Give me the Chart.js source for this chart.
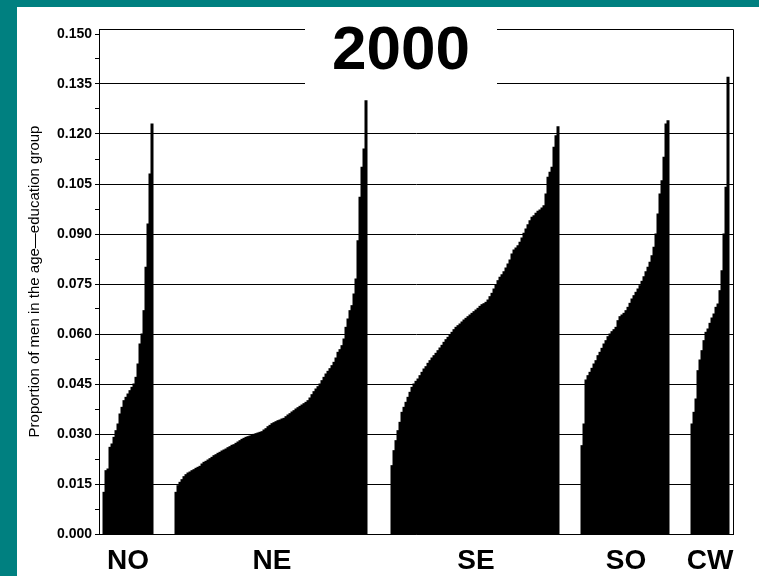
<!DOCTYPE html>
<html>
<head>
<meta charset="utf-8">
<title>2000</title>
<script src="https://cdn.jsdelivr.net/npm/chart.js@4.4.1/dist/chart.umd.min.js"></script>
<style>
  html, body { margin: 0; padding: 0; background: #008080; overflow: hidden; }
  #panel { position: absolute; left: 17px; top: 7px; width: 742px; height: 569px; background: #fff; }
  canvas { display: block; }
</style>
</head>
<body>
<div id="panel"><canvas id="myChart" width="742" height="569"></canvas></div>
<script>
const chartTitle = '2000';
const yTitle = 'Proportion of men in the age—education group';
const regions = ['NO', 'NE', 'SE', 'SO', 'CW'];

// sorted proportions, one bar per area, by region
const valuesNO = [0.0125, 0.0190, 0.0195, 0.0260, 0.0270, 0.0290, 0.0310, 0.0330, 0.0360, 0.0380,
  0.0400, 0.0410, 0.0420, 0.0430, 0.0440, 0.0450, 0.0470, 0.0510, 0.0570, 0.0600,
  0.0670, 0.0800, 0.0930, 0.1080, 0.1230];
const valuesNE = [0.0125, 0.0145, 0.0155, 0.0163, 0.0172, 0.0178, 0.0183, 0.0186, 0.0190, 0.0193,
  0.0197, 0.0200, 0.0203, 0.0210, 0.0215, 0.0218, 0.0222, 0.0226, 0.0230, 0.0235,
  0.0238, 0.0242, 0.0245, 0.0249, 0.0252, 0.0255, 0.0259, 0.0262, 0.0266, 0.0268,
  0.0272, 0.0276, 0.0280, 0.0284, 0.0287, 0.0290, 0.0292, 0.0294, 0.0297, 0.0299,
  0.0301, 0.0303, 0.0305, 0.0307, 0.0312, 0.0316, 0.0322, 0.0326, 0.0331, 0.0334,
  0.0337, 0.0340, 0.0342, 0.0345, 0.0347, 0.0352, 0.0357, 0.0361, 0.0366, 0.0370,
  0.0375, 0.0379, 0.0383, 0.0387, 0.0391, 0.0395, 0.0400, 0.0408, 0.0418, 0.0427,
  0.0435, 0.0442, 0.0450, 0.0460, 0.0470, 0.0480, 0.0488, 0.0496, 0.0505, 0.0515,
  0.0528, 0.0545, 0.0553, 0.0565, 0.0585, 0.0620, 0.0645, 0.0670, 0.0685, 0.0720,
  0.0765, 0.0880, 0.1010, 0.1100, 0.1155, 0.1300];
const valuesSE = [0.0205, 0.0250, 0.0280, 0.0310, 0.0335, 0.0365, 0.0380, 0.0395, 0.0410, 0.0425,
  0.0440, 0.0450, 0.0458, 0.0465, 0.0475, 0.0485, 0.0495, 0.0502, 0.0512, 0.0520,
  0.0528, 0.0535, 0.0542, 0.0550, 0.0558, 0.0566, 0.0575, 0.0583, 0.0590, 0.0597,
  0.0605, 0.0613, 0.0620, 0.0625, 0.0630, 0.0636, 0.0642, 0.0647, 0.0652, 0.0657,
  0.0662, 0.0667, 0.0672, 0.0677, 0.0683, 0.0688, 0.0691, 0.0695, 0.0702, 0.0712,
  0.0722, 0.0735, 0.0748, 0.0760, 0.0770, 0.0778, 0.0787, 0.0798, 0.0810, 0.0822,
  0.0840, 0.0852, 0.0858, 0.0865, 0.0875, 0.0888, 0.0902, 0.0915, 0.0928, 0.0940,
  0.0950, 0.0955, 0.0962, 0.0968, 0.0972, 0.0978, 0.0985, 0.1020, 0.1070, 0.1085,
  0.1100, 0.1160, 0.1195, 0.1222];
const valuesSO = [0.0265, 0.0330, 0.0462, 0.0475, 0.0485, 0.0497, 0.0510, 0.0520, 0.0535, 0.0545,
  0.0557, 0.0570, 0.0580, 0.0592, 0.0600, 0.0607, 0.0613, 0.0620, 0.0640, 0.0652,
  0.0657, 0.0662, 0.0670, 0.0680, 0.0692, 0.0705, 0.0715, 0.0725, 0.0735, 0.0745,
  0.0758, 0.0772, 0.0787, 0.0800, 0.0815, 0.0835, 0.0860, 0.0900, 0.0960, 0.1020,
  0.1060, 0.1130, 0.1230, 0.1240];
const valuesCW = [0.0330, 0.0365, 0.0405, 0.0490, 0.0522, 0.0550, 0.0580, 0.0605, 0.0615, 0.0632,
  0.0648, 0.0660, 0.0680, 0.0690, 0.0730, 0.0790, 0.0900, 0.1040, 0.1370];

// empty slots before, between and after the regions
const gapSlots = [2, 11, 12, 11, 11, 2];

const yTicks = [0, 0.015, 0.030, 0.045, 0.060, 0.075, 0.090, 0.105, 0.120, 0.135, 0.150];
const yTickLabels = ['0.000', '0.015', '0.030', '0.045', '0.060', '0.075', '0.090', '0.105', '0.120', '0.135', '0.150'];

const fontFamily = '"Liberation Sans", Arial, Helvetica, sans-serif';

// build one slot per bar, nulls for the gaps
const groups = [valuesNO, valuesNE, valuesSE, valuesSO, valuesCW];
let labels = [];
let data = [];
function addGap(n) {
  for (let i = 0; i < n; i++) { labels.push(''); data.push(null); }
}
addGap(gapSlots[0]);
groups.forEach((g, k) => {
  const mid = Math.floor(g.length / 2);
  g.forEach((v, i) => {
    labels.push(i === mid ? regions[k] : '');
    data.push(v);
  });
  addGap(gapSlots[k + 1]);
});

function isMajor(v) {
  return yTicks.some(t => Math.abs(t - v) < 1e-9);
}

const framePlugin = {
  id: 'frame',
  afterDraw(chart) {
    const ctx = chart.ctx;
    const a = chart.chartArea;
    ctx.save();
    ctx.strokeStyle = '#000';
    ctx.lineWidth = 1;
    ctx.beginPath();
    ctx.moveTo(a.left, a.top + 0.5);
    ctx.lineTo(a.right + 0.5, a.top + 0.5);
    ctx.lineTo(a.right + 0.5, a.bottom);
    ctx.stroke();
    // white box behind the title
    ctx.fillStyle = '#fff';
    ctx.fillRect(a.left + 206, a.top - 10, 192, 72);
    ctx.fillStyle = '#000';
    ctx.font = 'bold 62px ' + fontFamily;
    ctx.textAlign = 'center';
    ctx.textBaseline = 'middle';
    ctx.fillText(chartTitle, a.left + 302, a.top + 23);
    ctx.restore();
  }
};

const ctx1 = document.getElementById('myChart').getContext('2d');
new Chart(ctx1, {
  type: 'bar',
  data: {
    labels: labels,
    datasets: [{
      data: data,
      backgroundColor: '#000',
      borderWidth: 0,
      barPercentage: 1,
      categoryPercentage: 1,
      inflateAmount: 0.5
    }]
  },
  options: {
    responsive: false,
    animation: false,
    layout: { padding: { left: 0, top: 22, right: 26, bottom: 0 } },
    plugins: {
      legend: { display: false },
      tooltip: { enabled: false }
    },
    scales: {
      x: {
        type: 'category',
        afterFit: s => { s.height = 42; },
        grid: { display: false, drawTicks: false },
        border: { display: true, color: '#000' },
        ticks: {
          autoSkip: false,
          maxRotation: 0,
          minRotation: 0,
          padding: 10,
          color: '#000',
          font: { family: fontFamily, size: 28, weight: 'bold' }
        }
      },
      y: {
        min: 0,
        max: 0.1515,
        afterBuildTicks: scale => {
          let t = [];
          yTicks.forEach((v, i) => {
            t.push({ value: v });
            if (i < yTicks.length - 1) t.push({ value: (v + yTicks[i + 1]) / 2 });
          });
          scale.ticks = t;
        },
        afterFit: s => { s.width = 82; },
        ticks: {
          autoSkip: false,
          padding: 3,
          color: '#000',
          font: { family: fontFamily, size: 14, weight: 'bold' },
          callback: function (value) {
            const i = yTicks.findIndex(t => Math.abs(t - value) < 1e-9);
            return i >= 0 ? yTickLabels[i] : '';
          }
        },
        grid: {
          color: c => (c.tick && isMajor(c.tick.value) && c.tick.value < 0.149) ? '#000' : 'rgba(0,0,0,0)',
          tickColor: '#000',
          tickLength: 4,
          lineWidth: 1
        },
        border: { color: '#000' },
        title: {
          display: true,
          text: yTitle,
          color: '#000',
          font: { family: fontFamily, size: 15 },
          padding: { top: 9, bottom: 0 }
        }
      }
    }
  },
  plugins: [framePlugin]
});
</script>
</body>
</html>
